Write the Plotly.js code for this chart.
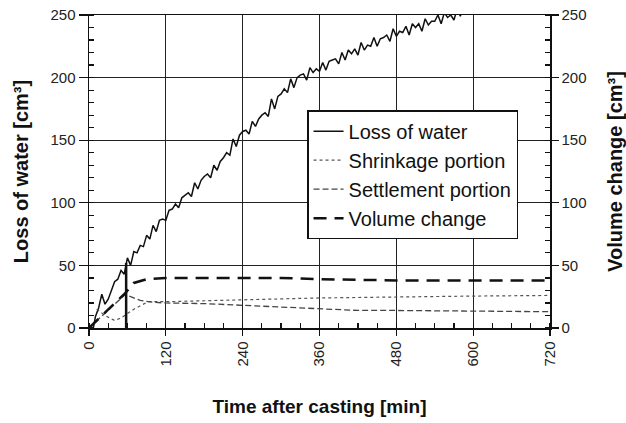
<!DOCTYPE html>
<html>
<head>
<meta charset="utf-8">
<script src="https://cdn.plot.ly/plotly-3.0.1.min.js"></script>
<style>html,body{margin:0;padding:0;background:#fff;}#chart{width:626px;height:423px;}</style>
</head>
<body>
<div id="chart"></div>
<script>
// Loss of water (every 5 min)
var waterTime = [];
for (var i = 0; i <= 590; i += 5) waterTime.push(i);
var waterLoss = [0,-5,9,16,27,19,23,30,37,39,46,43,56,50,61,60,66,65,74,71,
 82,77,86,87,86,94,95,99,96,104,106,108,105,116,111,118,121,123,120,130,
 126,133,136,140,138,151,145,154,157,158,155,165,161,167,170,172,169,183,175,185,
 187,191,188,199,192,200,202,203,198,208,204,207,205,212,206,213,214,215,211,220,
 214,222,219,223,218,228,222,226,225,232,225,231,232,234,229,239,233,237,236,241,
 234,243,240,243,237,247,242,245,245,250,243,252,248,250,246,255,249,258,251];

var shrinkTime = [12, 25, 40, 50, 70, 92, 120, 180, 240, 360, 480, 600, 720];
var shrinkVal  = [15, 10, 6, 8, 15, 21, 21, 21.5, 22.5, 24, 25, 25.5, 26];

var settleTime = [0, 57, 65, 80, 100, 120, 180, 240, 300, 360, 420, 480, 600, 720];
var settleVal  = [0, 27, 25, 22, 20.5, 20, 19.5, 18, 16.5, 15, 14, 14, 13.5, 13];

var volTime = [0, 57, 70, 90, 120, 240, 300, 360, 420, 480, 600, 720];
var volVal  = [0, 28, 36, 39, 40, 40, 40, 39, 38.5, 38, 38, 38];

var markTime = [58, 58];
var markVal  = [0, 52];

var xTicks = [0, 120, 240, 360, 480, 600, 720];
var yTicks = [0, 50, 100, 150, 200, 250];

var seriesNames = ['Loss of water', 'Shrinkage portion', 'Settlement portion', 'Volume change'];

var FONT = 'Liberation Sans, Arial, sans-serif';

var traces = [
  {x: waterTime, y: waterLoss, name: seriesNames[0], mode: 'lines', legendgroup: 'a',
   line: {color: '#111', width: 1.5}},
  {x: shrinkTime, y: shrinkVal, name: seriesNames[1], mode: 'lines', legendgroup: 'b',
   line: {color: '#555', width: 1.2, dash: 'dot'}},
  {x: settleTime, y: settleVal, name: seriesNames[2], mode: 'lines', legendgroup: 'c',
   line: {color: '#444', width: 1.3, dash: '6px,3px'}},
  {x: volTime, y: volVal, name: seriesNames[3], mode: 'lines', legendgroup: 'd', yaxis: 'y2',
   line: {color: '#111', width: 2.5, dash: '13px,8px'}},
  {x: markTime, y: markVal, mode: 'lines', showlegend: false,
   line: {color: '#111', width: 2.5}}
];

var axCommon = {
  showline: true, linecolor: '#111', linewidth: 1.5,
  showgrid: true, gridcolor: '#222', gridwidth: 1.3,
  zeroline: false, ticks: 'outside', tickcolor: '#111', tickwidth: 1.3,
  tickfont: {family: FONT, size: 15, color: '#222'}
};

var layout = {
  width: 626, height: 423,
  margin: {l: 89, r: 76, t: 15, b: 95},
  paper_bgcolor: '#fff', plot_bgcolor: '#fff',
  font: {family: FONT, color: '#111'},
  showlegend: true,
  legend: {
    x: 0.473, y: 0.696, xanchor: 'left', yanchor: 'top',
    bgcolor: '#fff', bordercolor: '#111', borderwidth: 1.5,
    font: {family: FONT, size: 20, color: '#111'},
    traceorder: 'grouped', tracegroupgap: 0
  },
  xaxis: Object.assign({}, axCommon, {
    range: [0, 720], tickvals: xTicks, ticktext: xTicks.map(String),
    tickangle: -90, ticklen: 6, mirror: true,
    minor: {dtick: 30, ticks: 'inside', ticklen: 5, tickcolor: '#111', tickwidth: 1.2, showgrid: false},
    title: {text: 'Time after casting [min]', standoff: 34,
      font: {family: FONT, size: 19, color: '#111', weight: 'bold'}}
  }),
  yaxis: Object.assign({}, axCommon, {
    range: [0, 250], tickvals: yTicks, ticklen: 9,
    minor: {dtick: 10, ticks: 'inside', ticklen: 5, tickcolor: '#111', tickwidth: 1.2, showgrid: false},
    title: {text: 'Loss of water [cm³]', standoff: 16,
      font: {family: FONT, size: 20, color: '#111', weight: 'bold'}}
  }),
  yaxis2: Object.assign({}, axCommon, {
    overlaying: 'y', side: 'right', showgrid: false,
    range: [0, 250], tickvals: yTicks, ticklen: 7,
    minor: {dtick: 10, ticks: 'inside', ticklen: 5, tickcolor: '#111', tickwidth: 1.2, showgrid: false},
    title: {text: 'Volume change [cm³]', standoff: 22,
      font: {family: FONT, size: 20, color: '#111', weight: 'bold'}}
  })
};

Plotly.newPlot('chart', traces, layout, {staticPlot: true, displayModeBar: false});
</script>
</body>
</html>
